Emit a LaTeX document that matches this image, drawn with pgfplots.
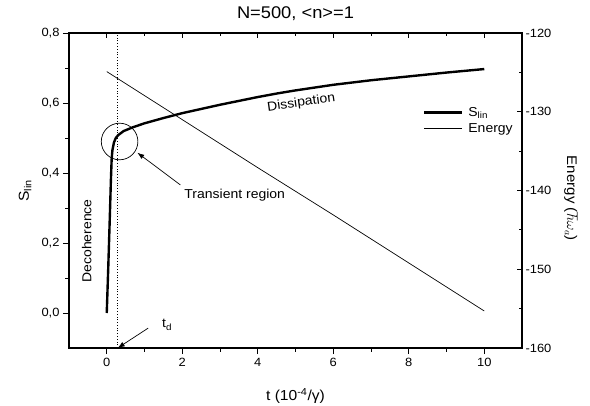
\documentclass[border=0pt]{standalone}
\usepackage{pgfplots}
\pgfplotsset{compat=1.18}
\usepackage{fontspec}
\setmainfont{Liberation Sans}[FakeStretch=1.08]
\usetikzlibrary{arrows.meta}

\begin{document}
\begin{tikzpicture}
\pgfplotsset{
  common/.style={
    width=453bp, height=315bp, scale only axis,
    xmin=-1, xmax=11,
    xtick={0,2,...,10}, minor x tick num=1,
    axis line style={line width=1.1pt},
    every tick/.style={black, line width=0.9pt},
    /pgf/number format/assume math mode=true,
    tick label style={font=\fontsize{12}{13}\selectfont},
  }
}
\begin{axis}[
  common,
  ymin=-0.1, ymax=0.8,
  ytick={0,0.2,...,0.8}, minor y tick num=1,
  xtick pos=bottom, ytick pos=left,
  tick align=outside,
  major tick length=6bp, minor tick length=3.5bp,
  yticklabel style={/pgf/number format/.cd, use comma, fixed, fixed zerofill, precision=1},
  xticklabel style={yshift=-1bp},
  title={N=500, <n>=1},
  title style={at={(axis description cs:0.5,1)}, anchor=base, yshift=9bp,
    font=\fontsize{17}{19}\selectfont},
  xlabel={t (10\textsuperscript{-4}/γ)},
  xlabel style={at={(axis description cs:0.5,-0.152)}, anchor=center,
    font=\fontsize{14.5}{16}\selectfont},
  ylabel={S\textsubscript{lin}},
  ylabel style={at={(axis description cs:-0.097,0.5)}, anchor=center,
    font=\fontsize{14.5}{16}\selectfont},
]
\addplot[black, line width=2.4pt, line join=round] coordinates {
  (0,0) (0.04,0.13) (0.08,0.27) (0.11,0.38) (0.13,0.44) (0.15,0.465)
  (0.19,0.487) (0.24,0.5) (0.3,0.508) (0.45,0.52) (0.7,0.531) (1,0.542)
  (1.5,0.557) (2,0.571) (2.5,0.583) (3,0.595) (3.5,0.606) (4,0.617)
  (4.5,0.627) (5,0.636) (6,0.652) (7,0.665) (8,0.676) (9,0.687) (10,0.697)
};
\draw[dotted, line width=0.8pt] (axis cs:0.27,-0.1) -- (axis cs:0.27,0.8);
\draw[line width=0.7pt] (axis cs:0.34,0.49) circle[radius=18.3bp];
\draw[line width=0.7pt, -{Latex[length=7bp,width=5bp]}] (axis cs:1.95,0.366) -- (axis cs:0.81,0.458);
\node[font=\fontsize{13}{15}\selectfont] at (axis cs:3.39,0.337) {Transient region};
\node[font=\fontsize{13}{15}\selectfont, rotate=8] at (axis cs:5.15,0.6) {Dissipation};
\node[font=\fontsize{13}{15}\selectfont, rotate=90] at (axis cs:-0.53,0.206) {Decoherence};
\node[font=\fontsize{13}{15}\selectfont] at (axis cs:1.6,-0.034) {t\textsubscript{d}};
\draw[line width=0.7pt, -{Latex[length=7bp,width=5bp]}] (axis cs:1.1,-0.043) -- (axis cs:0.29,-0.1);
\end{axis}

\begin{axis}[
  common,
  ymin=-160, ymax=-120,
  ytick={-160,-150,...,-120}, minor y tick num=1,
  xtick pos=top, ytick pos=right,
  xticklabels={},
  tick align=inside,
  major tick length=5bp, minor tick length=3bp,
  ylabel={Energy ($\hbar\omega_a$)},
  ylabel style={at={(axis description cs:1.108,0.475)}, anchor=center, rotate=180,
    font=\fontsize{14}{16}\selectfont},
  legend style={draw=none, fill=none, at={(axis description cs:0.774,0.775)},
    anchor=north west, font=\fontsize{13}{15}\selectfont,
    nodes={inner sep=1.2bp}, row sep=3bp,
    /tikz/every odd column/.append style={column sep=4bp}},
  legend cell align=left,
  legend image code/.code={\draw[#1] (0bp,0bp) -- (38bp,0bp);},
]
\addlegendimage{black, line width=2.4pt}
\addlegendentry{S\textsubscript{lin}}
\addplot[black, line width=0.7pt] coordinates {
  (0,-124.9) (2,-131.0) (4,-137.1) (6,-143.1) (8,-149.2) (10,-155.3)
};
\addlegendentry{Energy}
\end{axis}
\pgfresetboundingbox
\useasboundingbox (-69bp,-58bp) rectangle (521bp,348bp);
\end{tikzpicture}
\end{document}
